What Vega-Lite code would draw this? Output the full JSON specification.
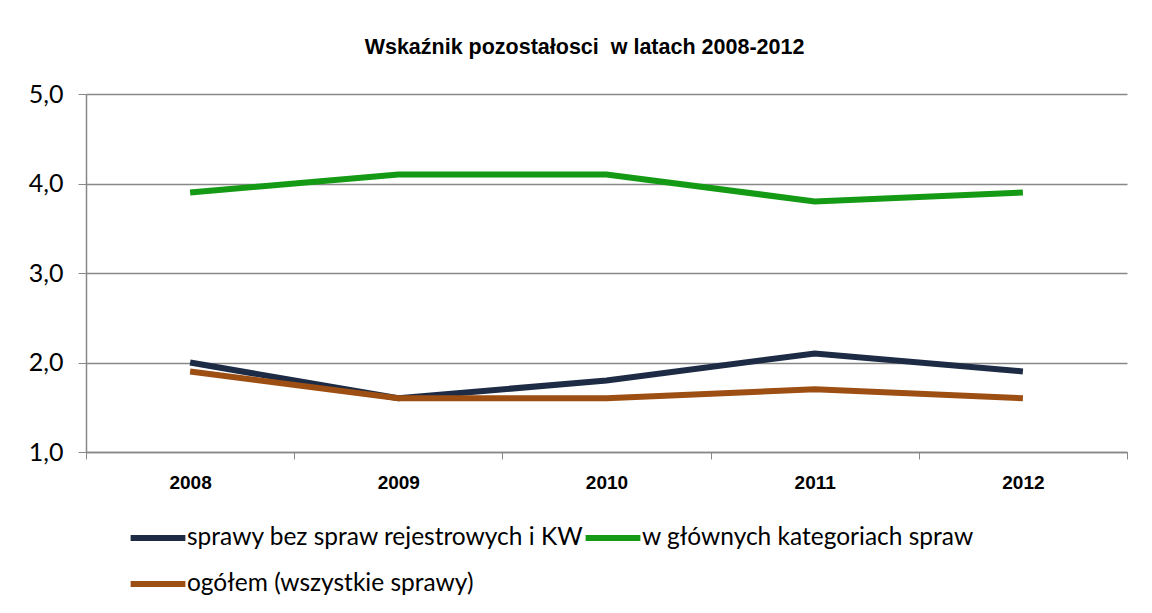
{
  "$schema": "https://vega.github.io/schema/vega-lite/v6.json",
  "autosize": "none",
  "width": 1041,
  "height": 358,
  "padding": {"left": 86, "top": 94, "right": 25, "bottom": 161},
  "background": "white",
  "title": {
    "text": "Wskaźnik pozostałosci \u00a0w latach 2008-2012",
    "font": "Liberation Sans",
    "fontSize": 21.5,
    "fontWeight": "bold",
    "color": "#000000",
    "anchor": "middle",
    "dx": -22,
    "offset": 24
  },
  "data": {
    "values": [
      {"rok": "2008", "seria": "sprawy bez spraw rejestrowych i KW", "wartosc": 2.0},
      {"rok": "2009", "seria": "sprawy bez spraw rejestrowych i KW", "wartosc": 1.6},
      {"rok": "2010", "seria": "sprawy bez spraw rejestrowych i KW", "wartosc": 1.8},
      {"rok": "2011", "seria": "sprawy bez spraw rejestrowych i KW", "wartosc": 2.1},
      {"rok": "2012", "seria": "sprawy bez spraw rejestrowych i KW", "wartosc": 1.9},
      {"rok": "2008", "seria": "w głównych kategoriach spraw", "wartosc": 3.9},
      {"rok": "2009", "seria": "w głównych kategoriach spraw", "wartosc": 4.1},
      {"rok": "2010", "seria": "w głównych kategoriach spraw", "wartosc": 4.1},
      {"rok": "2011", "seria": "w głównych kategoriach spraw", "wartosc": 3.8},
      {"rok": "2012", "seria": "w głównych kategoriach spraw", "wartosc": 3.9},
      {"rok": "2008", "seria": "ogółem (wszystkie sprawy)", "wartosc": 1.9},
      {"rok": "2009", "seria": "ogółem (wszystkie sprawy)", "wartosc": 1.6},
      {"rok": "2010", "seria": "ogółem (wszystkie sprawy)", "wartosc": 1.6},
      {"rok": "2011", "seria": "ogółem (wszystkie sprawy)", "wartosc": 1.7},
      {"rok": "2012", "seria": "ogółem (wszystkie sprawy)", "wartosc": 1.6}
    ]
  },
  "mark": {"type": "line", "strokeWidth": 6, "strokeJoin": "miter", "strokeCap": "butt"},
  "encoding": {
    "x": {
      "field": "rok",
      "type": "ordinal",
      "scale": {"type": "band", "paddingInner": 0, "paddingOuter": 0},
      "axis": {
        "title": null,
        "labelAngle": 0,
        "labelFont": "Liberation Sans",
        "labelFontSize": 19,
        "labelFontWeight": "bold",
        "labelColor": "#000000",
        "labelPadding": 14,
        "tickBand": "extent",
        "ticks": true,
        "tickSize": 7,
        "tickColor": "#888888",
        "domainColor": "#888888",
        "domainWidth": 1.5,
        "grid": false
      }
    },
    "y": {
      "field": "wartosc",
      "type": "quantitative",
      "scale": {"domain": [1, 5], "nice": false, "zero": false},
      "axis": {
        "title": null,
        "values": [1, 2, 3, 4, 5],
        "labelExpr": "replace(format(datum.value, '.1f'), '.', ',')",
        "labelFont": "Lato",
        "labelFontSize": 25,
        "labelColor": "#000000",
        "labelPadding": 15,
        "tickSize": 8,
        "tickColor": "#888888",
        "domainColor": "#888888",
        "domainWidth": 1.5,
        "grid": true,
        "gridColor": "#888888",
        "gridWidth": 1.5
      }
    },
    "color": {
      "field": "seria",
      "type": "nominal",
      "sort": ["sprawy bez spraw rejestrowych i KW", "w głównych kategoriach spraw", "ogółem (wszystkie sprawy)"],
      "scale": {
        "domain": ["sprawy bez spraw rejestrowych i KW", "w głównych kategoriach spraw", "ogółem (wszystkie sprawy)"],
        "range": ["#1D2B45", "#149A14", "#9D4E12"]
      },
      "legend": {
        "title": null,
        "orient": "none",
        "legendX": 55,
        "legendY": 427,
        "direction": "horizontal",
        "columns": 2,
        "columnPadding": -11,
        "rowPadding": 17,
        "symbolType": "M-2,0L2,0",
        "symbolSize": 750,
        "symbolStrokeWidth": 6,
        "symbolOffset": 0,
        "labelOffset": 12,
        "labelFont": "Lato",
        "labelFontSize": 24.5,
        "labelColor": "#000000",
        "labelLimit": 600
      }
    }
  },
  "config": {
    "view": {"stroke": null}
  }
}
